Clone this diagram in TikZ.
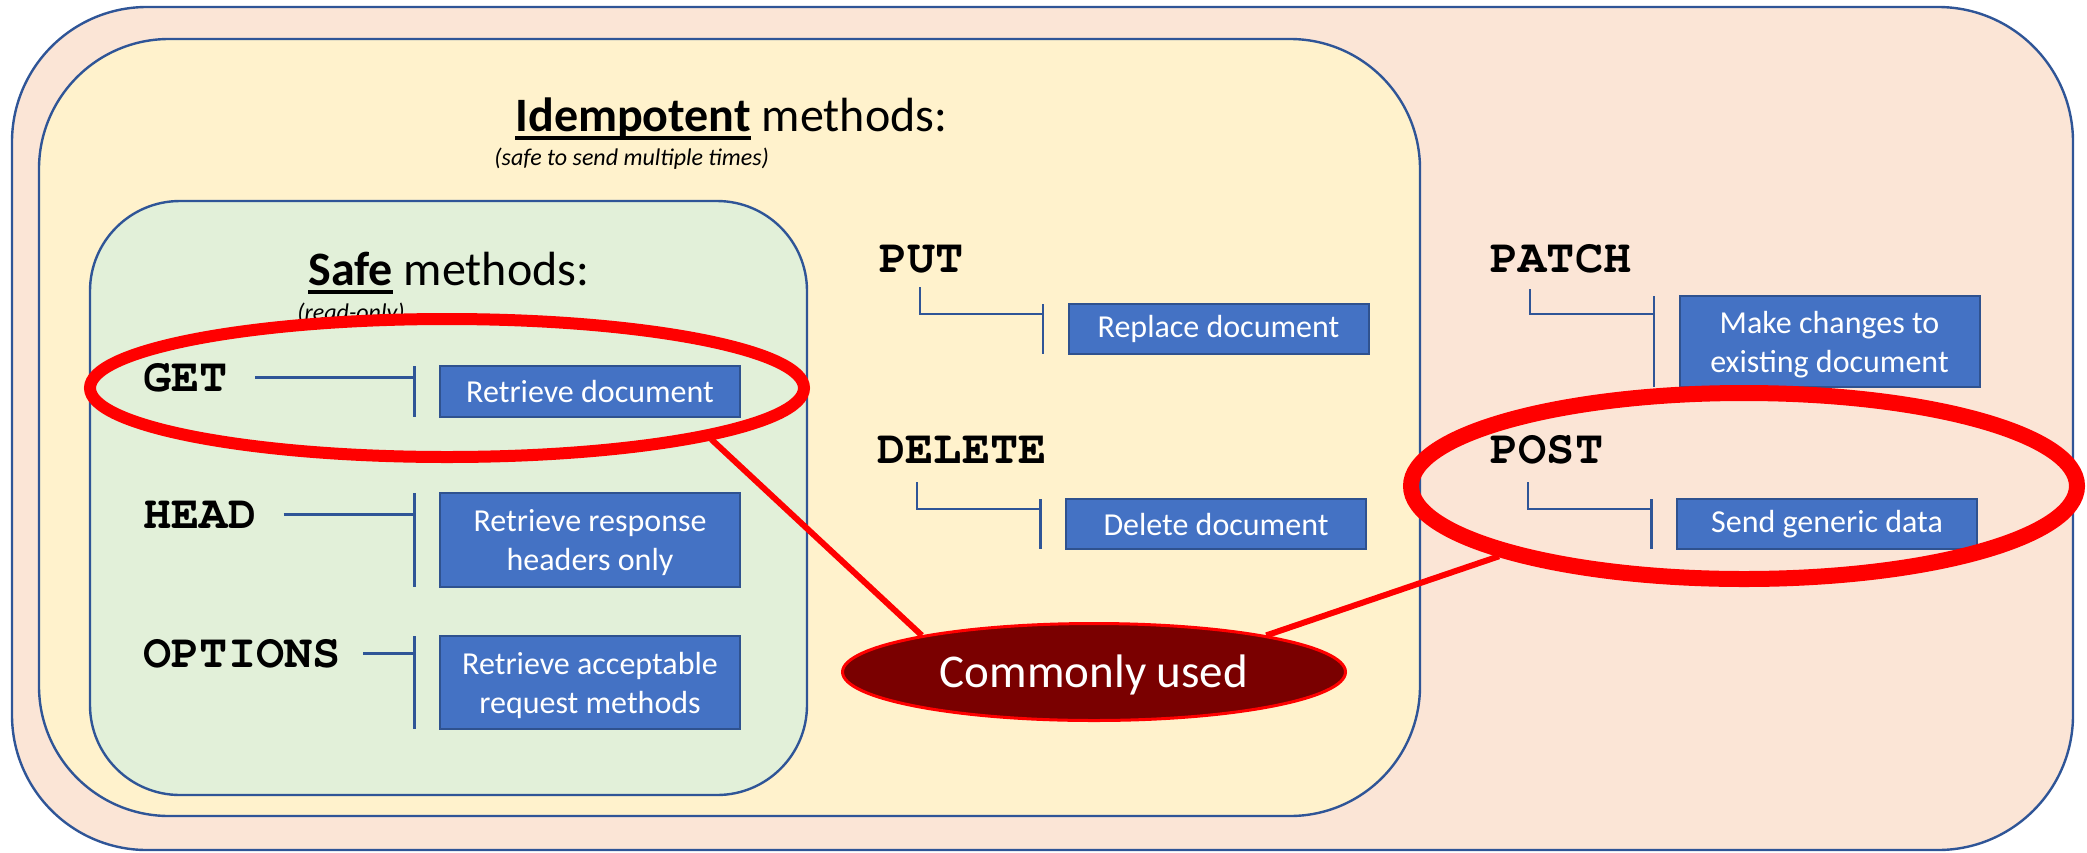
\documentclass[tikz,border=0pt]{standalone}
\usepackage{fontspec}
\setmainfont{Carlito}
\newfontfamily\codefont{texgyrecursor}[Extension=.otf, UprightFont=*-regular, BoldFont=*-bold]
\usetikzlibrary{shapes.geometric,calc}

\definecolor{peach}{HTML}{FBE5D6}
\definecolor{cream}{HTML}{FFF2CC}
\definecolor{mint}{HTML}{E2F0D9}
\definecolor{frame}{HTML}{2F5597}
\definecolor{boxfill}{HTML}{4472C4}
\definecolor{boxline}{HTML}{2F528F}
\definecolor{darkred}{HTML}{7A0000}

% word with a heavy underline that runs through the descenders
\newcommand\ulword[1]{\setbox0\hbox{#1}\rlap{\rule[-4.25pt]{\wd0}{2pt}}\box0\relax}

\tikzset{
  zone/.style={draw=frame, line width=1.2pt},
  verb/.style={inner sep=0pt, anchor=base west,
    font=\codefont\bfseries\fontsize{23.5pt}{28pt}\selectfont},
  action/.style={draw=boxline, line width=1pt, fill=boxfill, text=white,
    align=center, inner sep=0pt, minimum width=150pt,
    font=\fontsize{16pt}{19.5pt}\selectfont},
  twoline/.style={text depth=0pt},
  link/.style={draw=frame, line width=1.2pt},
  ring/.style={draw=red, ellipse, inner sep=0pt},
  callout/.style={draw=red, line width=3pt},
  heading/.style={inner sep=0pt, anchor=base west,
    font=\fontsize{24pt}{29pt}\selectfont},
  note/.style={inner sep=0pt, anchor=base west,
    font=\itshape\fontsize{12pt}{14pt}\selectfont},
}

\begin{document}
\begin{tikzpicture}[x=0.5pt, y=-0.5pt]
\useasboundingbox (0,0) rectangle (2087,852);

% nested groups of methods
\draw[zone, fill=peach, rounded corners=67.5pt] (12,7) rectangle (2073,850);
\draw[zone, fill=cream, rounded corners=65pt] (39,39) rectangle (1420,816);
\draw[zone, fill=mint, rounded corners=45pt] (90,201) rectangle (807,795);

% group titles
\node[heading] (idemtitle) at (515,131) {\ulword{\bfseries Idempotent} methods:};
\node[note] (idemnote) at (494,165) {(safe to send multiple times)};
\node[heading] (safetitle) at (308,285) {\ulword{\bfseries Safe} methods:};
\node[note] (safenote) at (297,320) {(read-only)};

% method names
\node[verb] (get) at (143,391) {GET};
\node[verb] (head) at (143,528) {HEAD};
\node[verb] (options) at (143,667) {OPTIONS};
\node[verb] (put) at (879,272) {PUT};
\node[verb] (delete) at (877,463) {DELETE};
\node[verb] (patch) at (1490,272) {PATCH};
\node[verb] (post) at (1490,463) {POST};

% descriptions
\node[action, minimum height=25.5pt] (getbox) at (590,391.5) {Retrieve document};
\node[action, twoline, minimum height=47pt] (headbox) at (590,540) {Retrieve response\\headers only};
\node[action, twoline, minimum height=46.5pt] (optbox) at (590,682.5) {Retrieve acceptable\\request methods};
\node[action, minimum height=25pt] (putbox) at (1218.5,329) {Replace document};
\node[action, minimum height=25pt] (delbox) at (1216,524) {Delete document};
\node[action, twoline, minimum height=45.5pt] (patchbox) at (1829.5,341.5) {Make changes to\\existing document};
\node[action, minimum height=25pt] (postbox) at (1827,524) {Send generic data};

% bracket bars beside each description
\foreach \b in {getbox,headbox,optbox,putbox,delbox,patchbox,postbox}{
  \coordinate (\b-top) at ([xshift=-12.25pt,yshift=-0.5pt]\b.north west);
  \coordinate (\b-bot) at ([xshift=-12.25pt,yshift=0.5pt]\b.south west);
  \draw[link] (\b-top) -- (\b-bot);
}

% connectors from names to bars
\draw[link] ([xshift=13.5pt]get.east) -- (getbox-top |- get.east);
\draw[link] ([xshift=13.5pt]head.east) -- (headbox-top |- head.east);
\draw[link] ([xshift=11pt]options.east) -- (optbox-top |- options.east);

\coordinate (putknee) at ([yshift=-5pt]putbox-top);
\coordinate (delknee) at ([yshift=-5pt]delbox-top);
\coordinate (patchknee) at ([yshift=-9pt]patchbox-top);
\coordinate (postknee) at ([yshift=-5pt]postbox-top);
\draw[link] ([shift={(20.5pt,-7.5pt)}]put.base west) |- (putknee);
\draw[link] ([shift={(20pt,-9.5pt)}]delete.base west) |- (delknee);
\draw[link] ([shift={(20pt,-8.5pt)}]patch.base west) |- (patchknee);
\draw[link] ([shift={(19pt,-9.5pt)}]post.base west) |- (postknee);

% highlights
\node[ring, line width=6pt, minimum width=357pt, minimum height=69pt] (getring) at (447,388) {};
\node[ring, line width=8pt, minimum width=333pt, minimum height=93pt] (postring) at (1744,486) {};

\node[ellipse, draw=red, fill=darkred, line width=1.5pt, inner sep=0pt,
      minimum width=251.5pt, minimum height=48.5pt, text=white,
      text height=15pt, text depth=0pt,
      font=\fontsize{23.5pt}{28pt}\selectfont] (common) at (1094,672) {Commonly used};

\draw[callout] (getring.-11.5) -- (common.168);
\draw[callout] (postring.196) -- (common.12);
\end{tikzpicture}
\end{document}
